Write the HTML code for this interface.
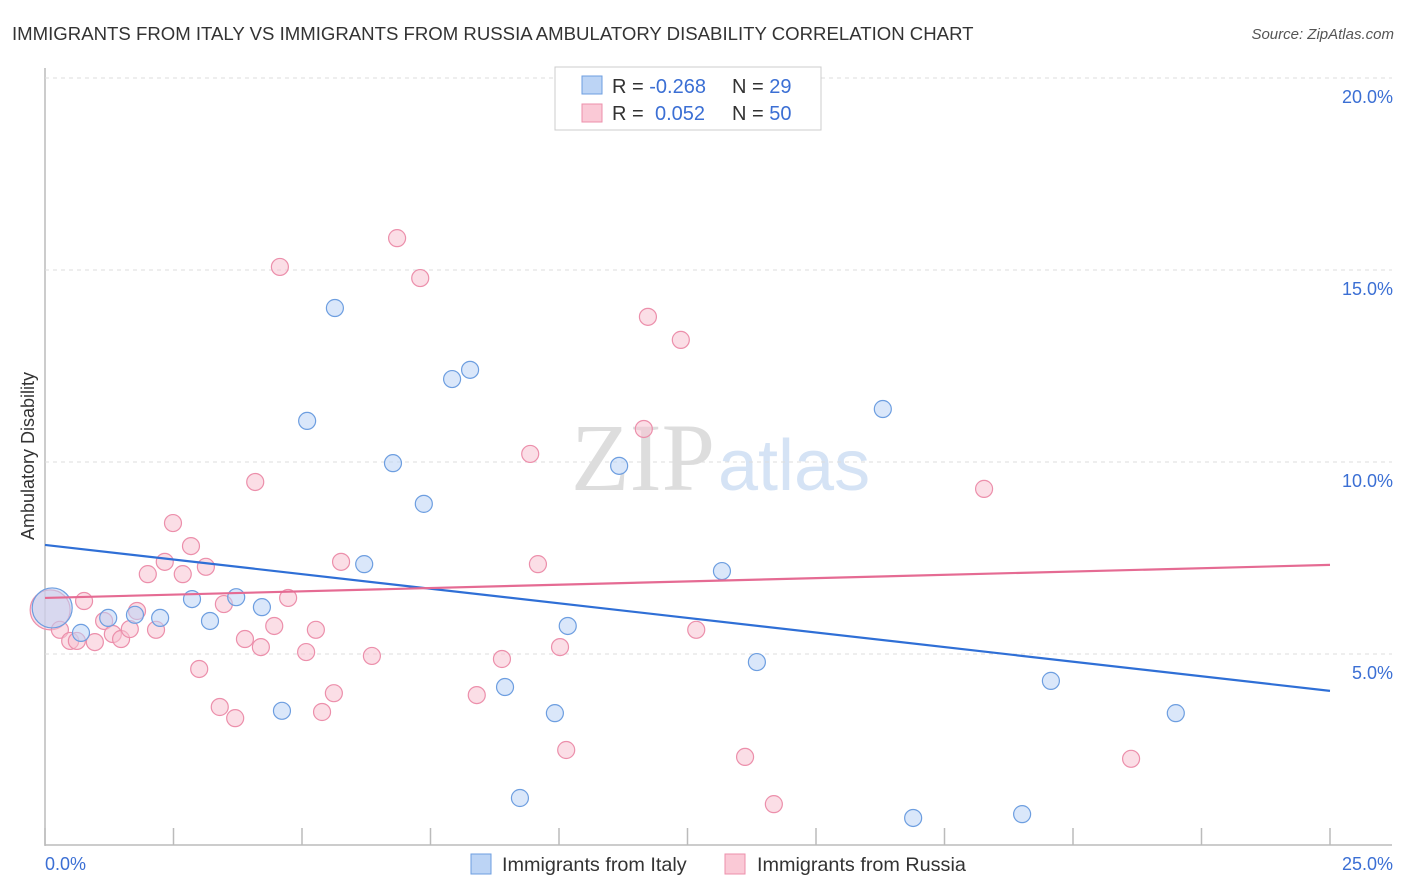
<!DOCTYPE html>
<html><head><meta charset="utf-8"><style>
body{margin:0;background:#fff;font-family:"Liberation Sans",sans-serif;}
svg{display:block}
</style></head><body>
<svg id="chart" width="1406" height="892">
<text x="12" y="40" font-size="18.6" fill="#333">IMMIGRANTS FROM ITALY VS IMMIGRANTS FROM RUSSIA AMBULATORY DISABILITY CORRELATION CHART</text>
<text x="1394" y="39" font-size="15" fill="#555" font-style="italic" text-anchor="end">Source: ZipAtlas.com</text>
<text x="715" y="490" font-size="96" fill="#ddd" text-anchor="end" font-family="Liberation Serif">ZIP</text>
<text x="718" y="490" font-size="72" fill="#d5e3f5">atlas</text>
<text transform="translate(34,456) rotate(-90)" font-size="18" fill="#333" text-anchor="middle">Ambulatory Disability</text>
<g id="grid"></g><g id="marks"></g>
<g>
<rect x="555" y="67" width="266" height="63" fill="#fff" stroke="#ccc"/>
<rect x="582" y="76" width="20" height="18" fill="#bcd4f5" stroke="#6d9ee0"/>
<rect x="582" y="104" width="20" height="18" fill="#fac9d6" stroke="#ec8fab"/>
<text x="612" y="93" font-size="20" fill="#333">R = <tspan fill="#3b6fd4">-0.268</tspan><tspan x="732">N = </tspan><tspan fill="#3b6fd4">29</tspan></text>
<text x="612" y="120" font-size="20" fill="#333">R = <tspan fill="#3b6fd4" x="655">0.052</tspan><tspan x="732">N = </tspan><tspan fill="#3b6fd4">50</tspan></text>
</g>
<g>
<rect x="471" y="854" width="20" height="20" fill="#bcd4f5" stroke="#6d9ee0"/>
<text x="502" y="871" font-size="19.8" fill="#333">Immigrants from Italy</text>
<rect x="725" y="854" width="20" height="20" fill="#fac9d6" stroke="#ec8fab"/>
<text x="757" y="871" font-size="19.8" fill="#333">Immigrants from Russia</text>
</g>
</svg>
<script>
const xTicks=[0,2.5,5,7.5,10,12.5,15,17.5,20,22.5,25];
const yTicks=[5,10,15,20];
const yTickLabels=["5.0%","10.0%","15.0%","20.0%"];
const italyX=[0.14,0.70,1.23,1.75,2.24,2.86,3.21,3.72,4.22,4.61,5.10,5.64,6.21,6.77,7.37,7.92,8.27,8.95,9.24,9.92,10.17,11.17,13.17,13.85,16.30,16.89,19.01,19.57,22.00];
const italyY=[6.20,5.55,5.94,6.02,5.94,6.43,5.86,6.48,6.22,3.52,11.07,14.01,7.34,9.97,8.91,12.16,12.40,4.14,1.25,3.46,5.73,9.90,7.16,4.79,11.38,0.73,0.83,4.30,3.46];
const russiaX=[0.10,0.29,0.49,0.62,0.76,0.97,1.15,1.32,1.48,1.65,1.79,2.00,2.16,2.33,2.49,2.68,2.84,3.00,3.13,3.40,3.48,3.70,3.89,4.09,4.20,4.46,4.57,4.73,5.08,5.27,5.39,5.62,5.76,6.36,6.85,7.30,8.40,8.89,9.44,9.59,10.02,10.14,11.65,11.73,12.37,12.67,13.62,14.18,18.27,21.13];
const russiaY=[6.15,5.63,5.34,5.34,6.38,5.31,5.86,5.52,5.39,5.65,6.12,7.08,5.63,7.40,8.41,7.08,7.81,4.61,7.27,3.62,6.30,3.33,5.39,9.48,5.18,5.73,15.08,6.46,5.05,5.63,3.49,3.98,7.40,4.95,15.83,14.79,3.93,4.87,10.21,7.34,5.18,2.50,10.86,13.78,13.18,5.63,2.32,1.09,9.30,2.27];
const italyTrend=[7.84,4.04];
const russiaTrend=[6.46,7.32];
const NS="http://www.w3.org/2000/svg";
const X=v=>45+v/25*1285, Y=v=>846-v*38.4;
function mk(t,a,p){const e=document.createElementNS(NS,t);for(const k in a)e.setAttribute(k,a[k]);p.appendChild(e);return e;}
const grid=document.getElementById('grid'), marks=document.getElementById('marks');
const ax=mk('line',{x1:45,y1:68,x2:45,y2:846,stroke:'#bbb','stroke-width':1.5},grid);


const bx=mk('line',{x1:45,y1:845,x2:1392,y2:845,stroke:'#bbb','stroke-width':1.5},grid);


yTicks.forEach((v,i)=>{
 const g=mk('line',{x1:45,y1:Y(v),x2:1392,y2:Y(v),stroke:'#ddd','stroke-dasharray':'4,4'},grid);
 
 
 const t=mk('text',{x:1393,y:Y(v)+25,'font-size':18,fill:'#3b6fd4','text-anchor':'end'},grid);
 t.textContent=yTickLabels[i];
 
 
});
xTicks.forEach(v=>{
 const t=mk('line',{x1:X(v),y1:828,x2:X(v),y2:845,stroke:'#bbb','stroke-width':1.5},grid);
 
 
});
[[0,"0.0%",45,'start'],[25,"25.0%",1393,'end']].forEach(d=>{
 const t=mk('text',{x:d[2],y:870,'font-size':18,fill:'#3b6fd4','text-anchor':d[3]},grid);
 t.textContent=d[1];
 
 
});
function pts(xs,ys,fill,stroke,name){
 xs.forEach((x,i)=>{
  const c=mk('circle',{cx:X(x),cy:Y(ys[i]),r:i===0?20:8.5,fill:fill,'fill-opacity':0.55,stroke:stroke,'stroke-width':1.2},marks);
  
  
 });
}
pts(russiaX,russiaY,'#f8c3d2','#ec8fab','russia-point');
pts(italyX,italyY,'#bcd4f5','#6d9ee0','italy-point');
const l1=mk('line',{x1:X(0),y1:Y(italyTrend[0]),x2:X(25),y2:Y(italyTrend[1]),stroke:'#2f6fd6','stroke-width':2.2},marks);


const l2=mk('line',{x1:X(0),y1:Y(russiaTrend[0]),x2:X(25),y2:Y(russiaTrend[1]),stroke:'#e56b93','stroke-width':2.2},marks);


</script>
</body></html>
